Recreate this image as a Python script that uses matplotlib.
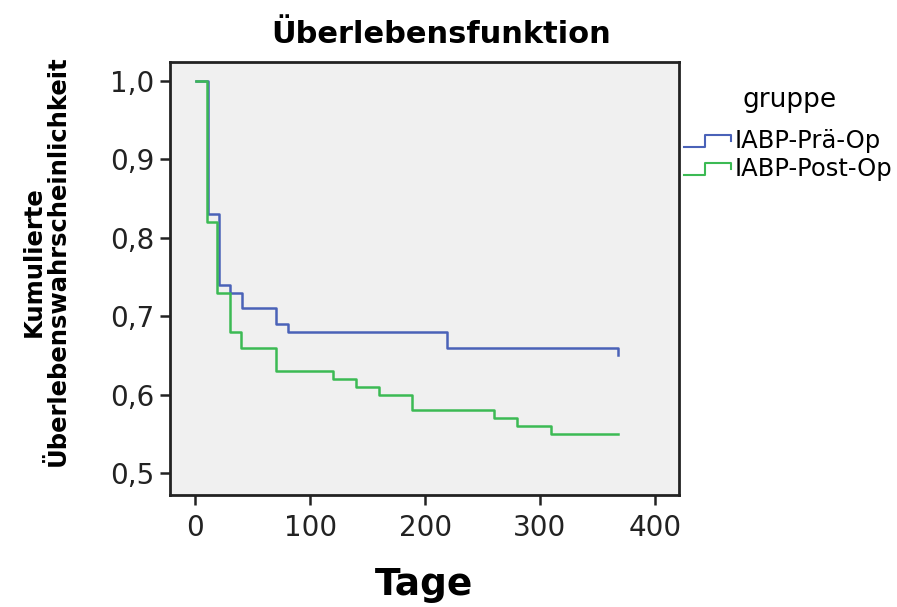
import matplotlib
matplotlib.use("Agg")
import matplotlib.pyplot as plt
from matplotlib.lines import Line2D
from matplotlib.legend_handler import HandlerBase

# Kaplan-Meier steps
pre_days = [1, 11, 21, 30, 41, 70, 81, 219, 368]
pre_surv = [1.0, 0.83, 0.74, 0.73, 0.71, 0.69, 0.68, 0.66, 0.65]

post_days = [1, 10, 19, 30, 40, 70, 120, 140, 160, 189, 260, 280, 310, 368]
post_surv = [1.0, 0.82, 0.73, 0.68, 0.66, 0.63, 0.62, 0.61, 0.60, 0.58, 0.57, 0.56, 0.55, 0.55]

group_names = ["IABP-Prä-Op", "IABP-Post-Op"]
x_ticks = [0, 100, 200, 300, 400]
y_ticks = [0.5, 0.6, 0.7, 0.8, 0.9, 1.0]
y_ticklabels = ["0,5", "0,6", "0,7", "0,8", "0,9", "1,0"]

blue = "#4a62b8"
green = "#3cba54"


class StepHandler(HandlerBase):
    def create_artists(self, legend, orig_handle, xdescent, ydescent,
                       width, height, fontsize, trans):
        lo = height * 0.1 - ydescent
        hi = height * 0.8 - ydescent
        xs = [-xdescent, -xdescent + width * 0.45, -xdescent + width * 0.45,
              -xdescent + width, -xdescent + width]
        ys = [lo, lo, hi, hi, hi - height * 0.35]
        line = Line2D(xs, ys, color=orig_handle.get_color(), lw=1.5, transform=trans)
        return [line]


fig = plt.figure(figsize=(8.97, 6.07), dpi=100)
ax = fig.add_axes([0.1895, 0.1845, 0.5675, 0.7135])
ax.set_facecolor("#f0f0f0")

l1, = ax.step(pre_days, pre_surv, where="post", color=blue, lw=1.8)
l2, = ax.step(post_days, post_surv, where="post", color=green, lw=1.8)

ax.set_xlim(-22, 421)
ax.set_ylim(0.472, 1.024)
ax.set_xticks(x_ticks)
ax.set_yticks(y_ticks)
ax.set_yticklabels(y_ticklabels)
ax.tick_params(axis="both", direction="out", length=7, width=1.8,
               labelsize=20, colors="#222222", pad=4)
ax.tick_params(axis="x", pad=7)

for s in ax.spines.values():
    s.set_linewidth(2)
    s.set_color("#222222")

fig.text(0.4916, 0.943, "Überlebensfunktion", fontsize=22, fontweight="bold",
         ha="center", va="center")
ax.set_xlabel("Tage", fontsize=27, fontweight="bold", labelpad=18)
ax.set_ylabel("Kumulierte\nÜberlebenswahrscheinlichkeit", fontsize=17.5,
              fontweight="bold", linespacing=1.05)
ax.yaxis.set_label_coords(-0.196, 0.54)

fig.text(0.88, 0.835, "gruppe", fontsize=19, ha="center", va="center")
leg = fig.legend([l1, l2], group_names,
                 handler_map={Line2D: StepHandler()},
                 loc="upper left", bbox_to_anchor=(0.762, 0.787),
                 frameon=False, fontsize=17.5,
                 handlelength=1.95, handletextpad=0.15, labelspacing=0.17,
                 borderaxespad=0.0, borderpad=0.0)

fig.savefig("out.png", dpi=100)
